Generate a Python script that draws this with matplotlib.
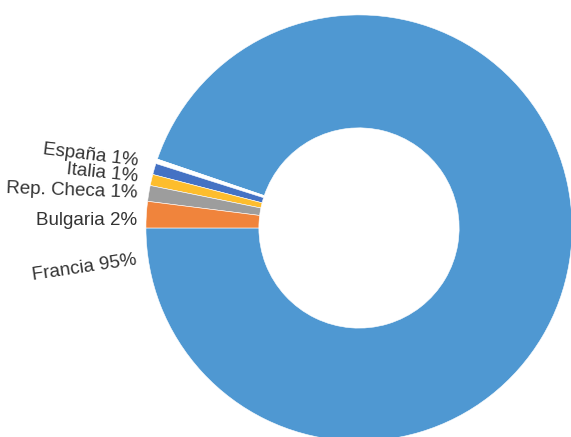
import matplotlib
matplotlib.use("Agg")
import matplotlib.pyplot as plt

labels = ["Francia 95%", "", "España 1%", "Italia 1%", "Rep. Checa 1%", "Bulgaria 2%"]
values = [95.0, 0.35, 0.85, 0.85, 1.2, 2.0]
colors = ["#4F98D2", "#FFFFFF", "#4472C4", "#FDBD2D", "#9D9D9D", "#F0843C"]

fig = plt.figure(figsize=(5.71, 4.37), dpi=100)
ax = fig.add_axes([0, 0, 1, 1])
ax.pie(values, colors=colors, startangle=180, counterclock=True,
       radius=1.0, wedgeprops=dict(width=0.53, edgecolor="white", linewidth=0.4))
ax.set_xlim(-1.685, 0.995)
ax.set_ylim(-0.981, 1.070)
ax.set_aspect("equal")
ax.axis("off")

label_pos = {
    "España 1%": (-1.040, 0.290, -7),
    "Italia 1%": (-1.040, 0.220, -6),
    "Rep. Checa 1%": (-1.040, 0.142, -2),
    "Bulgaria 2%": (-1.040, 0.012, 0),
    "Francia 95%": (-1.040, -0.170, 8.5),
}
for lab in labels:
    if not lab:
        continue
    x, y, rot = label_pos[lab]
    ax.text(x, y, lab, ha="right", va="baseline", rotation=rot,
            rotation_mode="anchor", fontsize=13.5, color="#333333",
            family="Liberation Sans")

fig.savefig("out.png", dpi=100)
